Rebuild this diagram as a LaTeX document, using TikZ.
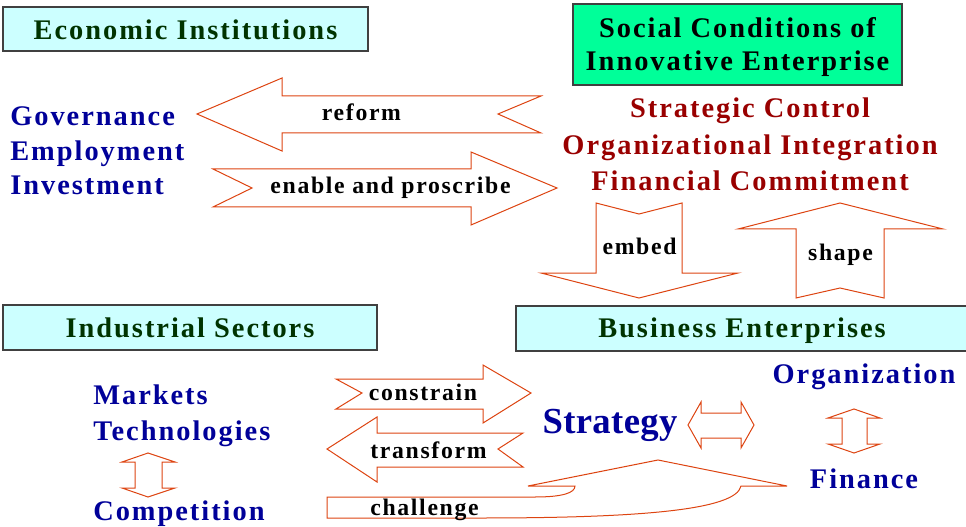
\documentclass[tikz,border=0pt]{standalone}
\usepackage{fontspec}
\setmainfont{Liberation Serif}[LetterSpace=7]
\newfontfamily\tightfont{Liberation Serif}[LetterSpace=1]
\definecolor{boxcyan}{RGB}{204,255,255}
\definecolor{boxgreen}{RGB}{0,255,153}
\definecolor{titlegreen}{RGB}{0,51,0}
\definecolor{navyblue}{RGB}{0,0,153}
\definecolor{darkred}{RGB}{153,0,0}
\definecolor{arrowred}{RGB}{221,68,17}
\definecolor{boxborder}{RGB}{64,64,64}
\tikzset{
  titlebox/.style={draw=boxborder, line width=0.8pt},
  blockarrow/.style={draw=arrowred, line width=0.75pt, line join=miter, fill=white},
  txt/.style={font=\bfseries\fontsize{21.3}{25}\selectfont, anchor=base, inner sep=0pt},
  lbl/.style={font=\bfseries\fontsize{17.8}{20}\selectfont, anchor=base, inner sep=0pt},
}
\begin{document}
\begin{tikzpicture}[x=0.75pt,y=-0.75pt]
\useasboundingbox (0,0) rectangle (966,527);

% title boxes
\path[titlebox, fill=boxcyan] (3,7) rectangle (368,51);
\node[txt, text=titlegreen] (econ) at (185.5,39.3) {Economic Institutions};

\path[titlebox, fill=boxgreen] (573,4) rectangle (902,85);
\node[txt] (soc1) at (737.5,38) {Social Conditions of};
\node[txt] (soc2) at (737.5,71) {Innovative Enterprise};

\path[titlebox, fill=boxcyan] (3,305) rectangle (377,350);
\node[txt, text=titlegreen] (ind) at (190,337) {Industrial Sectors};

\path[titlebox, fill=boxcyan] (516,306) rectangle (970,351);
\node[txt, text=titlegreen] (bus) at (742,337) {Business Enterprises};

% blue texts left
\node[txt, anchor=base west, text=navyblue] (gov) at (10,126) {Governance};
\node[txt, anchor=base west, text=navyblue] (emp) at (10,161) {Employment};
\node[txt, anchor=base west, text=navyblue] (inv) at (10,195) {Investment};

% red texts
\node[txt, text=darkred] (sc) at (750,118) {Strategic Control};
\node[txt, text=darkred] (oi) at (750,155) {Organizational Integration};
\node[txt, text=darkred] (fc) at (750,191) {Financial Commitment};

% reform arrow (left)
\path[blockarrow] (197,114) -- (282,78) -- (282,96) -- (541,96) -- (498,114) -- (541,133) -- (282,133) -- (282,151) -- cycle;
\node[lbl] (reform) at (361.5,121) {reform};

% enable arrow (right)
\path[blockarrow] (213,169) -- (471,169) -- (471,152) -- (557,188) -- (471,225) -- (471,207) -- (213,207) -- (252,188) -- cycle;
\node[lbl] (enable) at (390.5,194) {enable and proscribe};

% embed arrow (down)
\path[blockarrow] (596,203) -- (639,214) -- (682,203) -- (682,273) -- (738,273) -- (639,298) -- (541,273) -- (596,273) -- cycle;
\node[lbl] (embed) at (639.5,254) {embed};

% shape arrow (up)
\path[blockarrow] (796,298) -- (796,229) -- (738,229) -- (840,203) -- (943,229) -- (884,229) -- (884,298) -- (840,288) -- cycle;
\node[lbl] (shape) at (840.5,260) {shape};

% lower left texts
\node[txt, anchor=base west, text=navyblue] (mkt) at (93,404) {Markets};
\node[txt, anchor=base west, text=navyblue] (tech) at (93,440) {Technologies};
\node[txt, anchor=base west, text=navyblue] (comp) at (93,520) {Competition};
\path[blockarrow] (148,453) -- (175,462) -- (162,462) -- (162,488) -- (175,488) -- (148,497) -- (122,488) -- (135,488) -- (135,462) -- (122,462) -- cycle;

% constrain arrow
\path[blockarrow] (336,379) -- (483,379) -- (483,365) -- (531,393) -- (483,423) -- (483,409) -- (336,409) -- (362,393) -- cycle;
\node[lbl] (constrain) at (423,400) {constrain};

% transform arrow
\path[blockarrow] (327,449) -- (377,417) -- (377,433) -- (523,433) -- (498,449) -- (523,467) -- (377,467) -- (377,482) -- cycle;
\node[lbl] (transform) at (428.5,458) {transform};

% challenge arrow
\path[blockarrow] (327,497) -- (535,497) .. controls (562,497) and (575,493) .. (575,486) -- (528,486) -- (658,460) -- (787,486) -- (741,486) .. controls (736,510) and (640,518) .. (480,518) -- (327,518) -- cycle;
\node[lbl] (challenge) at (424.5,515) {challenge};

% strategy
\node[anchor=base, inner sep=0pt, font=\tightfont\bfseries\fontsize{27.5}{32}\selectfont, text=navyblue] (strat) at (610,433) {Strategy};
\path[blockarrow] (688,425) -- (701,402) -- (701,413) -- (741,413) -- (741,402) -- (754,425) -- (741,448) -- (741,438) -- (701,438) -- (701,448) -- cycle;

% organization / finance
\node[txt, text=navyblue] (org) at (864,383) {Organization};
\node[txt, text=navyblue] (fin) at (864,488) {Finance};
\path[blockarrow] (854,409) -- (880,418) -- (867,418) -- (867,444) -- (880,444) -- (854,453) -- (828,444) -- (842,444) -- (842,418) -- (828,418) -- cycle;
\end{tikzpicture}
\end{document}
